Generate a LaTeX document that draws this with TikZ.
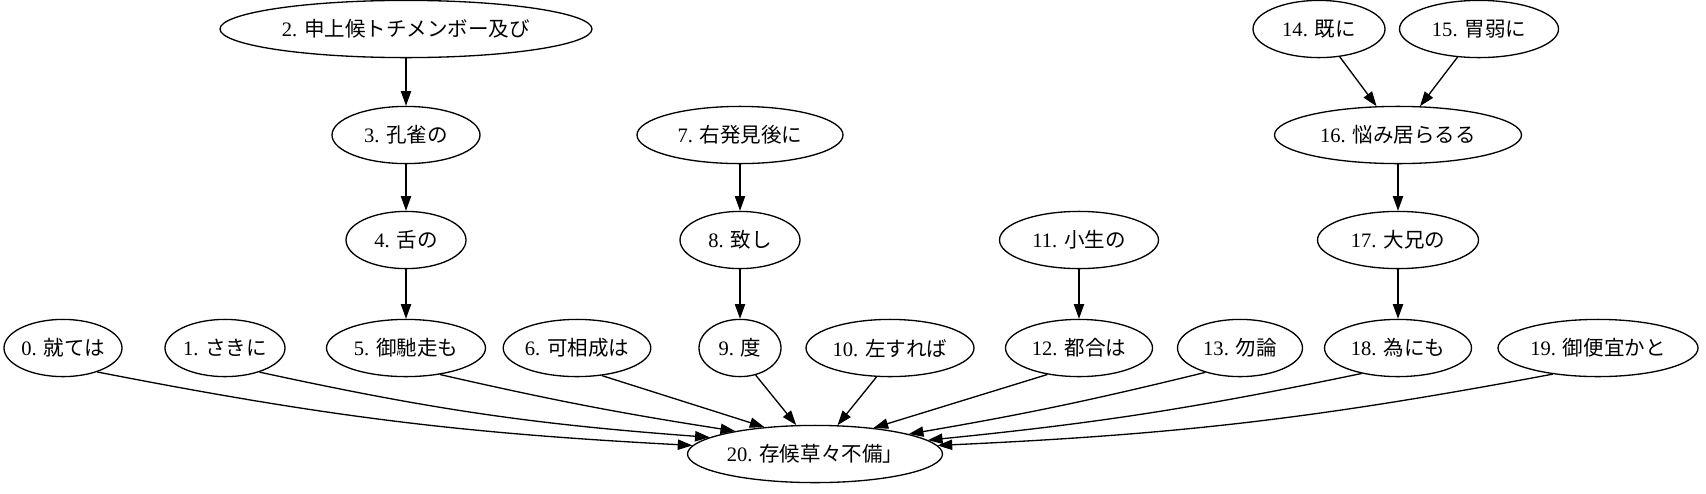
\documentclass[tikz,border=0pt]{standalone}
\usepackage{fontspec}
\setmainfont{Liberation Serif}
\newfontfamily\cjk{Noto Sans CJK JP}
\usetikzlibrary{shapes.geometric,arrows.meta}
\tikzset{
  nd/.style={draw,ellipse,line width=0.9pt,inner sep=0pt,minimum height=39pt,font=\fontsize{14pt}{16pt}\selectfont},
  edge/.style={-{Triangle[length=10pt,width=7pt]},line width=0.9pt},
}
\begin{document}
\begin{tikzpicture}[x=0.6818pt,y=-0.6818pt]
\useasboundingbox (0,0) rectangle (1706,493);
% row 1
\node[nd,minimum width=372*0.6818pt] (n2) at (406,29) {2. \cjk 申上候トチメンボー及び};
\node[nd,minimum width=132*0.6818pt] (n14) at (1319,29) {14. \cjk 既に};
\node[nd,minimum width=159*0.6818pt] (n15) at (1479,29) {15. \cjk 胃弱に};
% row 2
\node[nd,minimum width=148*0.6818pt] (n3) at (406,135) {3. \cjk 孔雀の};
\node[nd,minimum width=206*0.6818pt] (n7) at (740,135) {7. \cjk 右発見後に};
\node[nd,minimum width=247*0.6818pt] (n16) at (1398,135) {16. \cjk 悩み居らるる};
% row 3
\node[nd,minimum width=120*0.6818pt] (n4) at (406,240) {4. \cjk 舌の};
\node[nd,minimum width=120*0.6818pt] (n8) at (740,240) {8. \cjk 致し};
\node[nd,minimum width=159*0.6818pt] (n11) at (1079,240) {11. \cjk 小生の};
\node[nd,minimum width=161*0.6818pt] (n17) at (1398,240) {17. \cjk 大兄の};
% row 4
\node[nd,minimum width=116*0.6818pt] (n0) at (63,348) {0. \cjk 就ては};
\node[nd,minimum width=120*0.6818pt] (n1) at (225,348) {1. \cjk さきに};
\node[nd,minimum width=159*0.6818pt] (n5) at (406,348) {5. \cjk 御馳走も};
\node[nd,minimum width=132*0.6818pt] (n6) at (577,348) {6. \cjk 可相成は};
\node[nd,minimum width=82*0.6818pt] (n9) at (740,348) {9. \cjk 度};
\node[nd,minimum width=168*0.6818pt] (n10) at (890,348) {10. \cjk 左すれば};
\node[nd,minimum width=147*0.6818pt] (n12) at (1079,348) {12. \cjk 都合は};
\node[nd,minimum width=125*0.6818pt] (n13) at (1240,348) {13. \cjk 勿論};
\node[nd,minimum width=147*0.6818pt] (n18) at (1398,348) {18. \cjk 為にも};
\node[nd,minimum width=200*0.6818pt] (n19) at (1598,348) {19. \cjk 御便宜かと};
% row 5
\node[nd,minimum width=255*0.6818pt] (n20) at (815,454) {20. \cjk 存候草々不備」};
% edges
\draw[edge] (n2) -- (n3);
\draw[edge] (n3) -- (n4);
\draw[edge] (n4) -- (n5);
\draw[edge] (n7) -- (n8);
\draw[edge] (n8) -- (n9);
\draw[edge] (n11) -- (n12);
\draw[edge] (n14) -- (n16);
\draw[edge] (n15) -- (n16);
\draw[edge] (n16) -- (n17);
\draw[edge] (n17) -- (n18);
\draw[edge] (n0.-35) to[bend right=4] (n20.176);
\draw[edge] (n1.-35) to[bend right=4] (n20.171);
\draw[edge] (n5.-38) to[bend right=2] (n20.164);
\draw[edge] (n6.-48) -- (n20.152);
\draw[edge] (n9.-60) -- (n20.123);
\draw[edge] (n10.-115) -- (n20.52);
\draw[edge] (n12.-140) -- (n20.24);
\draw[edge] (n13.-145) to[bend left=2] (n20.12);
\draw[edge] (n18.-145) to[bend left=3] (n20.7);
\draw[edge] (n19.-150) to[bend left=4] (n20.4);
\end{tikzpicture}
\end{document}
